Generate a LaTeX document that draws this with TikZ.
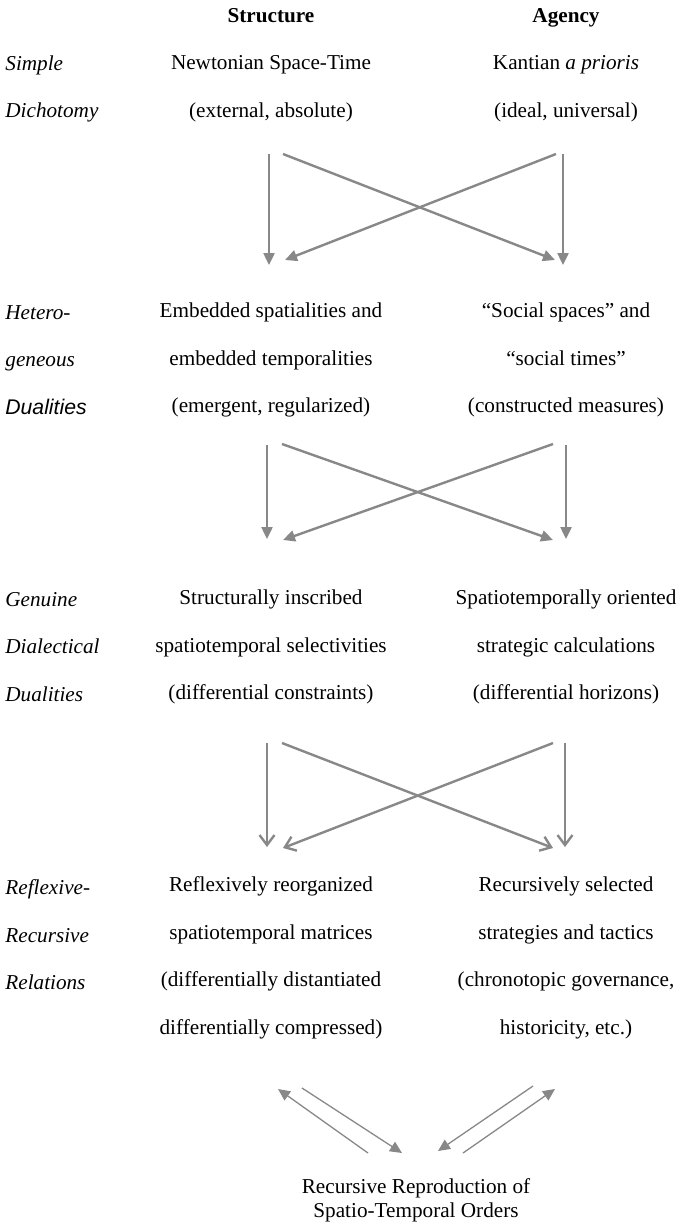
\documentclass[tikz,border=0pt]{standalone}
\usepackage{fontspec}
\setmainfont{Liberation Serif}
\newfontfamily\labelsans{Liberation Sans}
\usetikzlibrary{arrows.meta}
\definecolor{arrowgray}{HTML}{888888}

\begin{document}
\begin{tikzpicture}[x=0.5pt, y=-0.5pt,
    every node/.style={inner sep=0pt, font=\fontsize{10.6}{23.8}\selectfont},
    cell/.style={align=center},
    head/.style={anchor=base, font=\fontsize{10.6}{23.8}\selectfont\bfseries},
    rowlabel/.style={align=left, anchor=west, font=\fontsize{10.6}{23.8}\selectfont\itshape},
    flow/.style={draw=arrowgray, line width=1.2pt, -{Triangle[length=6pt,width=5.5pt]}},
    openflow/.style={draw=arrowgray, line width=1.2pt, -{Straight Barb[length=5pt,width=7.5pt]}},
    backflow/.style={draw=arrowgray, line width=0.65pt, -{Triangle[length=6pt,width=5.5pt]}}]
  \useasboundingbox (0,0) rectangle (679,1232);

  % column heads
  \node[head] (structure) at (271,22) {Structure};
  \node[head] (agency) at (566,22) {Agency};

  % row 1
  \node[rowlabel] (simple) at (5,89) {Simple\\Dichotomy};
  \node[cell] (newton) at (271,89) {Newtonian Space-Time\\(external, absolute)};
  \node[cell] (kant) at (566,89) {Kantian \textit{a prioris}\\(ideal, universal)};

  \coordinate (n1) at (269,154); \coordinate (n2) at (269,265);
  \coordinate (n3) at (283,154); \coordinate (n4) at (555,260);
  \coordinate (k1) at (563,154); \coordinate (k2) at (563,265);
  \coordinate (k3) at (556,154); \coordinate (k4) at (285,260);
  \draw[flow] (n1) -- (n2);
  \draw[flow] (n3) -- (n4);
  \draw[flow] (k3) -- (k4);
  \draw[flow] (k1) -- (k2);

  % row 2
  \node[rowlabel] (hetero) at (5,360) {Hetero-\\geneous\\{\labelsans Dualities}};
  \node[cell] (embedded) at (271,360) {Embedded spatialities and\\embedded temporalities\\(emergent, regularized)};
  \node[cell] (social) at (566,360) {``Social spaces'' and\\``social times''\\(constructed measures)};

  \coordinate (e1) at (267,445); \coordinate (e2) at (267,539);
  \coordinate (e3) at (282,444); \coordinate (e4) at (553,540);
  \coordinate (c1) at (566,445); \coordinate (c2) at (566,539);
  \coordinate (c3) at (553,444); \coordinate (c4) at (283,540);
  \draw[flow] (e1) -- (e2);
  \draw[flow] (e3) -- (e4);
  \draw[flow] (c3) -- (c4);
  \draw[flow] (c1) -- (c2);

  % row 3
  \node[rowlabel] (genuine) at (5,647) {Genuine\\Dialectical\\Dualities};
  \node[cell] (inscribed) at (271,647) {Structurally inscribed\\spatiotemporal selectivities\\(differential constraints)};
  \node[cell] (oriented) at (566,647) {Spatiotemporally oriented\\strategic calculations\\(differential horizons)};

  \coordinate (i1) at (267,743); \coordinate (i2) at (267,847);
  \coordinate (i3) at (282,743); \coordinate (i4) at (553,848);
  \coordinate (o1) at (565,743); \coordinate (o2) at (565,847);
  \coordinate (o3) at (553,743); \coordinate (o4) at (283,848);
  \draw[openflow] (i1) -- (i2);
  \draw[openflow] (i3) -- (i4);
  \draw[openflow] (o3) -- (o4);
  \draw[openflow] (o1) -- (o2);

  % row 4
  \node[rowlabel] (reflexive) at (5,935) {Reflexive-\\Recursive\\Relations};
  \node[cell] (matrices) at (271,958) {Reflexively reorganized\\spatiotemporal matrices\\(differentially distantiated\\differentially compressed)};
  \node[cell] (tactics) at (566,958) {Recursively selected\\strategies and tactics\\(chronotopic governance,\\historicity, etc.)};

  % recursion
  \node[cell, font=\fontsize{10.6}{12}\selectfont] (reproduction) at (416,1200) {Recursive Reproduction of\\Spatio-Temporal Orders};

  \coordinate (m1) at (368,1153); \coordinate (m2) at (278,1089);
  \coordinate (m3) at (302,1088); \coordinate (m4) at (402,1153);
  \coordinate (t1) at (533,1086); \coordinate (t2) at (438,1151);
  \coordinate (t3) at (463,1153); \coordinate (t4) at (555,1089);
  \draw[backflow] (m1) -- (m2);
  \draw[backflow] (m3) -- (m4);
  \draw[backflow] (t1) -- (t2);
  \draw[backflow] (t3) -- (t4);
\end{tikzpicture}
\end{document}
